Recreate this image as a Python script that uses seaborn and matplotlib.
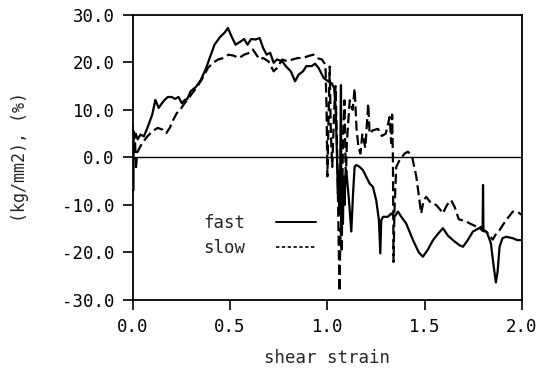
import numpy as np
import pandas as pd
import matplotlib
matplotlib.use("Agg")
import matplotlib.pyplot as plt
from matplotlib.lines import Line2D
import seaborn as sns

fast_x = [0.000, 0.002, 0.004, 0.008, 0.015, 0.025, 0.040, 0.057, 0.075, 0.100, 0.116, 0.133, 0.150, 0.164,
          0.180, 0.200, 0.217, 0.235, 0.252, 0.265, 0.280, 0.297, 0.324, 0.350, 0.377, 0.395, 0.420, 0.448,
          0.471, 0.489, 0.507, 0.528, 0.555, 0.572, 0.590, 0.608, 0.631, 0.652, 0.670, 0.688, 0.706, 0.724,
          0.741, 0.768, 0.786, 0.812, 0.834, 0.852, 0.875, 0.892, 0.919, 0.937, 0.955, 0.981, 1.004, 1.022,
          1.035, 1.043, 1.050, 1.054, 1.058, 1.062, 1.066, 1.070, 1.072, 1.076, 1.080, 1.084, 1.088, 1.092,
          1.097, 1.111, 1.123, 1.132, 1.140, 1.149, 1.166, 1.183, 1.200, 1.217, 1.234, 1.251, 1.265, 1.272,
          1.277, 1.286, 1.311, 1.328, 1.345, 1.363, 1.380, 1.405, 1.440, 1.470, 1.491, 1.515, 1.543, 1.570,
          1.594, 1.620, 1.654, 1.680, 1.697, 1.720, 1.748, 1.775, 1.791, 1.798, 1.800, 1.802, 1.820, 1.840,
          1.855, 1.866, 1.875, 1.885, 1.900, 1.919, 1.953, 1.975, 2.000]
fast_y = [6.5, -7.0, 5.5, 4.0, 5.0, 3.8, 4.8, 4.4, 6.2, 9.0, 12.1, 10.4, 11.4, 12.1,
          12.7, 12.7, 12.3, 12.7, 11.4, 12.0, 12.3, 13.9, 14.8, 16.3, 18.8, 20.9, 23.7, 25.3,
          26.2, 27.2, 25.5, 23.7, 24.4, 24.9, 23.7, 24.9, 24.8, 25.1, 23.0, 21.6, 22.0, 19.9,
          20.6, 20.2, 19.2, 18.1, 16.0, 17.4, 18.1, 19.2, 19.2, 19.7, 18.8, 16.7, 16.0, 15.6,
          14.6, 10.0, -0.6, -7.6, -3.0, -12.0, -2.0, 15.2, -16.0, -6.0, -14.0, -4.0, -10.0, -5.0,
          -2.7, -9.0, -15.6, -7.6, -2.0, -1.6, -2.0, -2.7, -4.1, -5.5, -6.2, -9.0, -13.2, -20.2,
          -13.2, -12.5, -12.5, -11.8, -12.5, -11.4, -12.5, -13.9, -17.4, -20.0, -20.9, -19.5, -17.4, -16.0,
          -14.9, -16.5, -17.7, -18.5, -18.8, -17.5, -15.6, -15.0, -14.6, -15.0, -5.8, -15.2, -15.8, -18.0,
          -23.0, -26.3, -24.0, -18.8, -17.0, -16.7, -17.0, -17.4, -17.4]

slow_x = [0.000, 0.008, 0.012, 0.016, 0.022, 0.030, 0.048, 0.075, 0.100, 0.128, 0.155, 0.172, 0.190, 0.208,
          0.226, 0.244, 0.261, 0.280, 0.306, 0.332, 0.359, 0.386, 0.412, 0.439, 0.466, 0.492, 0.519, 0.546,
          0.572, 0.600, 0.617, 0.635, 0.652, 0.670, 0.697, 0.724, 0.741, 0.768, 0.795, 0.821, 0.848, 0.875,
          0.901, 0.928, 0.946, 0.972, 0.990, 0.996, 1.000, 1.006, 1.012, 1.018, 1.025, 1.035, 1.042, 1.050,
          1.056, 1.062, 1.068, 1.074, 1.080, 1.088, 1.095, 1.100, 1.115, 1.130, 1.140, 1.150, 1.160, 1.170,
          1.180, 1.195, 1.210, 1.217, 1.234, 1.260, 1.280, 1.300, 1.320, 1.328, 1.333, 1.337, 1.340, 1.345,
          1.354, 1.371, 1.397, 1.414, 1.435, 1.457, 1.470, 1.482, 1.495, 1.508, 1.534, 1.559, 1.580, 1.593,
          1.615, 1.636, 1.655, 1.675, 1.713, 1.747, 1.780, 1.800, 1.816, 1.835, 1.850, 1.868, 1.885, 1.902,
          1.919, 1.953, 1.978, 2.000]
slow_y = [0.0, 2.5, 3.0, -2.6, 1.0, 1.6, 3.0, 4.4, 5.5, 6.2, 5.8, 5.1, 6.2, 7.9,
          9.3, 10.0, 11.1, 12.1, 13.5, 14.9, 16.7, 18.8, 19.9, 20.6, 20.9, 21.6, 21.4, 20.9,
          21.6, 22.0, 22.7, 21.6, 20.6, 20.9, 20.2, 18.1, 18.8, 20.6, 20.2, 20.6, 20.9, 20.9,
          21.3, 21.6, 20.9, 20.6, 19.5, 10.0, -4.0, 8.0, 19.1, 5.0, -2.0, 10.0, 15.0, 2.0,
          -12.0, -28.2, -15.0, -20.0, 4.0, 12.0, -5.0, 3.0, 12.0, 10.0, 14.5, 6.0, 2.0, 0.8,
          5.0, 2.0, 11.3, 5.0, 5.7, 6.0, 4.5, 5.0, 8.5, 3.0, 9.0, -0.6, -22.0, -11.0,
          -2.0, -0.6, 0.8, 1.2, 0.2, -4.0, -8.0, -11.8, -9.0, -8.3, -9.7, -10.0, -11.0, -11.8,
          -10.0, -9.0, -10.5, -13.0, -13.5, -14.2, -14.8, -15.5, -15.6, -16.5, -17.3, -16.0, -15.3, -14.2,
          -13.2, -11.4, -11.5, -12.1]

y_ticks = [30, 20, 10, 0, -10, -20, -30]
x_ticks = [0.0, 0.5, 1.0, 1.5, 2.0]
series_names = ["fast", "slow"]

sns.set_style("ticks")
plt.rcParams["font.family"] = ["DejaVu Sans Mono", "DejaVu Sans"]

fig = plt.figure(figsize=(5.42, 3.69), dpi=100)
ax = fig.add_axes([0.245, 0.187, 0.718, 0.773])

df_fast = pd.DataFrame({"x": fast_x, "y": fast_y})
df_slow = pd.DataFrame({"x": slow_x, "y": slow_y})

sns.lineplot(data=df_fast, x="x", y="y", ax=ax, sort=False, estimator=None,
             color="black", linewidth=1.6)
sns.lineplot(data=df_slow, x="x", y="y", ax=ax, sort=False, estimator=None,
             color="black", linewidth=1.6, linestyle=(0, (4.5, 2)))

ax.axhline(0, color="black", linewidth=1.0)

ax.set_xlim(0, 2.0)
ax.set_ylim(-30, 30)
ax.set_xticks(x_ticks)
ax.set_xticklabels([f"{v:.1f}" for v in x_ticks])
ax.set_yticks(y_ticks)
ax.set_yticklabels([f"{v:.1f}" for v in y_ticks])
ax.tick_params(direction="out", length=7, width=1.2, labelsize=12.5, colors="black", pad=6)
for s in ax.spines.values():
    s.set_visible(True)
    s.set_linewidth(1.3)
    s.set_color("black")

ax.set_xlabel("shear strain", fontsize=12.5, labelpad=9)
ax.set_ylabel("(kg/mm2), (%)", fontsize=12, labelpad=24)

handles = [Line2D([], [], color="black", linewidth=1.4),
           Line2D([], [], color="black", linewidth=1.2, linestyle=(0, (2, 1.5)))]
ax.legend(handles, series_names, loc="lower left", bbox_to_anchor=(0.14, 0.097),
          frameon=False, markerfirst=False, fontsize=12.5, handlelength=2.3,
          handletextpad=1.8, labelspacing=0.4)

fig.savefig("out.png", dpi=100)
